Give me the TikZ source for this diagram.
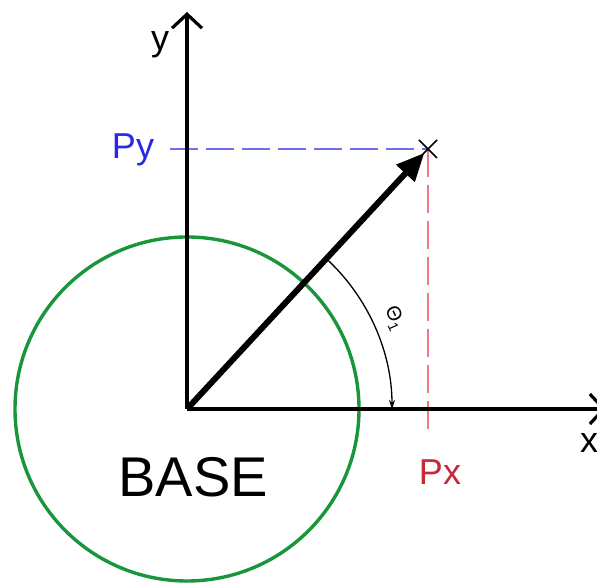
\documentclass[tikz,border=0pt]{standalone}
\usepackage{fontspec}
\setmainfont{Liberation Sans}
\usetikzlibrary{arrows.meta,calc}
\definecolor{basegreen}{RGB}{25,150,60}
\definecolor{pyblue}{RGB}{40,40,230}
\definecolor{pxred}{RGB}{200,40,60}
\definecolor{dashblue}{RGB}{110,110,235}
\definecolor{dashred}{RGB}{240,120,135}
\begin{document}
\begin{tikzpicture}[x=1pt,y=1pt,
  axis/.style={line width=4.5pt,-{Straight Barb[length=14pt,width=30pt,line width=3.2pt]}},
  lab/.style={inner sep=0pt,font=\fontsize{36}{40}\selectfont},
  proj/.style={line width=1.4pt,dash pattern=on 28pt off 8pt}]
\useasboundingbox (0,0) rectangle (597,583);
\clip (0,0) rectangle (597,583);
\coordinate (O) at (187,174);
\coordinate (P) at (428,434);
\coordinate (ytop) at (187,571);
\coordinate (xend) at (606,174);
\coordinate (pyend) at (170,434);
\coordinate (pxend) at (428,146);
% base circle
\draw[basegreen,line width=3.4pt] (O) circle[radius=172];
% projections
\draw[proj,dashblue] (pyend) -- (P);
\draw[proj,dashred] (P) -- (pxend);
% axes
\draw[axis] (O) -- (ytop);
\draw[axis] (O) -- (xend);
% vector
\draw[line width=6pt,-{Triangle[length=28pt,width=24pt]}] (O) -- ($(O)!0.985!(P)$);
% cross at P
\draw[line width=1.6pt] ($(P)+(-9,-9)$) -- ($(P)+(9,9)$);
\draw[line width=1.6pt] ($(P)+(-9,9)$) -- ($(P)+(9,-9)$);
% angle arc
\draw[line width=1.3pt,-{Stealth[length=9pt,width=6pt]}] (O) ++(47.2:205) arc[start angle=47.2,end angle=0,radius=205];
\node[inner sep=0pt,rotate=-66,font=\fontsize{20}{22}\selectfont] (theta) at ($(O)+(23.6:226)$) {Θ\raisebox{-4pt}{\fontsize{14}{16}\selectfont 1}};
% labels
\node[lab] (ylab) at (160,538) {y};
\node[lab,pyblue] (pylab) at (133,433) {Py};
\node[lab,pxred] (pxlab) at (440,111) {Px};
\node[lab] (xlab) at (589,140) {x};
\node[inner sep=0pt,font=\fontsize{56}{60}\selectfont] (base) at (193,106) {BASE};
\end{tikzpicture}
\end{document}
